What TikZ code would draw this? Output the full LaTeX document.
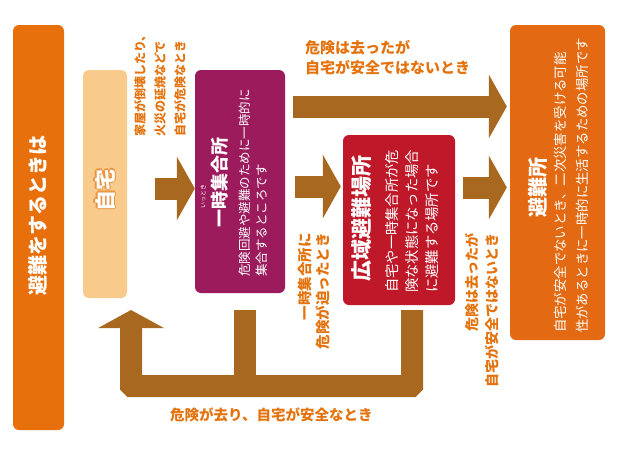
\documentclass[tikz,border=0pt]{standalone}
\usepackage{fontspec}
\setmainfont{Noto Sans CJK JP}
\usetikzlibrary{arrows.meta}
\definecolor{barorange}{HTML}{E8700C}
\definecolor{peach}{HTML}{F8CB8C}
\definecolor{arrowbrown}{HTML}{A9681F}
\definecolor{boxpurple}{HTML}{9C1B5D}
\definecolor{boxred}{HTML}{BF1829}
\definecolor{shelter}{HTML}{E36A12}
\definecolor{labelorange}{HTML}{E4730E}
\definecolor{outlineorange}{HTML}{E89440}
\begin{document}
\begin{tikzpicture}[x=1pt,y=-1pt,
  panel/.style={rounded corners=6pt,inner sep=0pt,draw=none},
  fat/.style={line width=22pt,draw=arrowbrown},
  fatarrow/.style={fat,-{Triangle[length=18pt,width=63pt]}},
  vt/.style={rotate=90,inner sep=0pt},
  lbl/.style={text=labelorange,inner sep=0pt}]
\useasboundingbox (0,0) rectangle (621,456);
\fill[white] (0,0) rectangle (621,456);
% panels
\node[panel,fill=barorange,minimum width=51pt,minimum height=405pt] (bar) at (38.5,227.5) {};
\node[panel,fill=peach,minimum width=44pt,minimum height=228pt] (jitaku) at (105,184) {};
\node[panel,fill=boxpurple,minimum width=90pt,minimum height=223pt] (ichiji) at (240,181.5) {};
\node[panel,fill=boxred,minimum width=112pt,minimum height=170pt] (kouiki) at (399,220) {};
\node[panel,fill=shelter,minimum width=95pt,minimum height=315pt] (hinanjo) at (557.5,182.5) {};
% connectors
\coordinate (a1s) at (155,188.5);
\draw[fatarrow] (a1s) -- (ichiji.west |- a1s);
\draw[fatarrow,shorten >=2pt] (ichiji.east |- 0,186.5) ++(10,0) -- (kouiki.west |- 0,186.5);
\draw[fatarrow,shorten >=3pt] (ichiji.east |- 0,106.5) ++(8,0) -- (hinanjo.west |- 0,106.5);
\draw[fatarrow,shorten >=3pt] (kouiki.east |- 0,187.5) ++(8,0) -- (hinanjo.west |- 0,187.5);
\coordinate (loopR) at (412,310);
\coordinate (loopP) at (245,310);
\coordinate (tipJ) at (131,310);
\draw[fat,-{Triangle[length=18pt,width=65pt]},rounded corners=1pt] (loopR) -- (412,386) -- (131,386) -- (tipJ);
\draw[fat] (loopP) -- (245,390);
% title bar
\node[vt,text=white,font=\fontsize{20}{24}\selectfont\bfseries] (bartext) at (38,215) {避難をするときは};
% jitaku text with outline
\foreach \dx/\dy in {1.2/0,-1.2/0,0/1.2,0/-1.2,0.85/0.85,-0.85/0.85,0.85/-0.85,-0.85/-0.85}
  \node[vt,text=outlineorange,font=\fontsize{21}{24}\selectfont\bfseries,xshift=\dx pt,yshift=\dy pt] at (105,190) {自宅};
\node[vt,text=white,font=\fontsize{21}{24}\selectfont\bfseries] (jitakutext) at (105,190) {自宅};
% label 1
\node[vt,lbl,anchor=west,align=left,font=\fontsize{12}{20}\selectfont\bfseries] (l1) at (160,137) {家屋が倒壊したり、\\火災の延焼などで\\自宅が危険なとき};
% ichiji texts
\node[vt,text=white,font=\fontsize{6}{7}\selectfont] (ruby) at (203,196) {いっとき};
\node[vt,text=white,font=\fontsize{18}{20}\selectfont\bfseries] (ichijititle) at (220,182) {一時集合所};
\node[vt,text=white,anchor=west,align=left,font=\fontsize{12.5}{17}\selectfont] (ichijibody) at (253.5,277) {危険回避や避難のために一時的に\\集合するところです};
% label 2
\node[vt,lbl,anchor=east,align=right,font=\fontsize{14.5}{18}\selectfont\bfseries] (l2) at (314,233) {一時集合所に\\危険が迫ったとき};
% kouiki texts
\node[vt,text=white,font=\fontsize{21}{24}\selectfont\bfseries] (kouikititle) at (362,218) {広域避難場所};
\node[vt,text=white,anchor=west,align=left,font=\fontsize{14.3}{20}\selectfont] (kouikibody) at (412,293) {自宅や一時集合所が危\\険な状態になった場合\\に避難する場所です};
% label 3 (right)
\node[vt,lbl,anchor=east,align=right,font=\fontsize{14}{20}\selectfont\bfseries] (l3) at (482,233) {危険は去ったが\\自宅が安全ではないとき};
% label top
\node[lbl,anchor=west,align=left,font=\fontsize{15}{20}\selectfont\bfseries] (ltop) at (305,58) {危険は去ったが\\自宅が安全ではないとき};
% label bottom
\node[lbl,anchor=west,font=\fontsize{14.5}{18}\selectfont\bfseries] (lbot) at (170,415) {危険が去り、自宅が安全なとき};
% hinanjo texts
\node[vt,text=white,font=\fontsize{20}{24}\selectfont\bfseries] (hinanjotitle) at (538,187) {避難所};
\node[vt,text=white,anchor=west,align=left,font=\fontsize{13.4}{22}\selectfont] (hinanjobody) at (571,333) {自宅が安全でないとき、二次災害を受ける可能\\性があるときに一時的に生活するための場所です};
\end{tikzpicture}
\end{document}
